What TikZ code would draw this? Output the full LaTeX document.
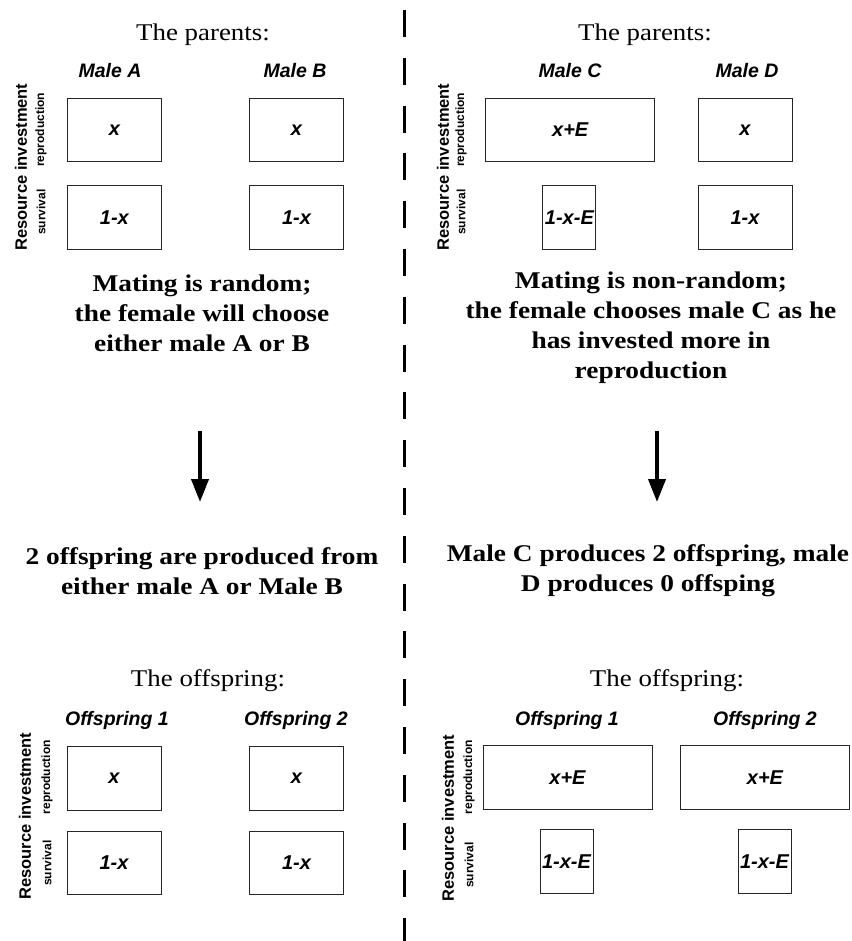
\documentclass[tikz,border=0pt]{standalone}
\usepackage{fontspec}
\setmainfont{Liberation Serif}
\setsansfont{Liberation Sans}
\newfontfamily\titlefont[FakeStretch=1.12]{Liberation Serif}
\newfontfamily\msgfont[FakeStretch=1.14]{Liberation Serif}
\usetikzlibrary{arrows.meta}
\tikzset{
  valbox/.style={draw=black!85, line width=1pt, inner sep=0pt, minimum height=63.5pt,
    font=\sffamily\bfseries\itshape\fontsize{20}{24}\selectfont},
  wn/.style={valbox, minimum width=94pt},
  ww/.style={valbox, minimum width=169pt},
  wk/.style={valbox, minimum width=53pt},
  lab/.style={font=\sffamily\bfseries\itshape\fontsize{19.5}{23}\selectfont},
  ttl/.style={font=\titlefont\fontsize{24}{30}\selectfont},
  msg/.style={font=\msgfont\bfseries\fontsize{24}{30}\selectfont, align=center},
  rbig/.style={font=\sffamily\bfseries\fontsize{16.5}{19}\selectfont, rotate=90},
  rsmall/.style={font=\sffamily\bfseries\fontsize{12}{14}\selectfont, rotate=90},
  arr/.style={line width=4pt, -{Triangle[width=17pt,length=23pt]}},
  divider/.style={line width=3pt, dash pattern=on 27pt off 20.8pt}
}
\begin{document}
\begin{tikzpicture}[x=1pt,y=1pt]
\useasboundingbox (0,0) rectangle (851,-941);
% divider
\coordinate (dtop) at (404.5,-10);
\coordinate (dbot) at (404.5,-941);
\draw[divider] (dtop) -- (dbot);

% ---------- top left ----------
\node[ttl] (tpL) at (203,-35) {The parents:};
\node[lab] (mA) at (110,-71) {Male A};
\node[lab] (mB) at (295,-71) {Male B};
\node[rbig] (riTL) at (21,-167) {Resource investment};
\node[rsmall] (rpTL) at (41,-130) {reproduction};
\node[rsmall] (svTL) at (41,-212) {survival};
\node[wn] (Ar) at (114.4,-130) {x};
\node[wn] (As) at (114.4,-217.5) {1-x};
\node[wn] (Br) at (296.5,-130) {x};
\node[wn] (Bs) at (296.5,-217.5) {1-x};

% ---------- top right ----------
\node[ttl] (tpR) at (645,-35) {The parents:};
\node[lab] (mC) at (570,-71) {Male C};
\node[lab] (mD) at (747,-71) {Male D};
\node[rbig] (riTR) at (443,-167) {Resource investment};
\node[rsmall] (rpTR) at (461,-130) {reproduction};
\node[rsmall] (svTR) at (461,-212) {survival};
\node[ww] (Cr) at (570.2,-130) {x+E};
\node[wk] (Cs) at (569.4,-217.5) {1-x-E};
\node[wn] (Dr) at (745,-130) {x};
\node[wn] (Ds) at (745,-217.5) {1-x};

% ---------- messages ----------
\node[msg] (mL) at (202,-313) {Mating is random;\\the female will choose\\either male A or B};
\node[msg] (mR) at (651,-328) {Mating is non-random;\\the female chooses male C as he\\has invested more in\\reproduction};

\coordinate (aLs) at (200,-431);
\coordinate (aLe) at (200,-502);
\coordinate (aRs) at (657,-431);
\coordinate (aRe) at (657,-502);
\draw[arr] (aLs) -- (aLe);
\draw[arr] (aRs) -- (aRe);

\node[msg] (oL) at (202,-571) {2 offspring are produced from\\either male A or Male B};
\node[msg] (oR) at (648,-571) {Male C produces 2 offspring, male\\D produces 0 offsping};

% ---------- bottom left ----------
\node[ttl] (toL) at (208,-681) {The offspring:};
\node[lab] (o1L) at (117,-720) {Offspring 1};
\node[lab] (o2L) at (296,-720) {Offspring 2};
\node[rbig] (riBL) at (25,-816) {Resource investment};
\node[rsmall] (rpBL) at (47,-777) {reproduction};
\node[rsmall] (svBL) at (47,-863) {survival};
\node[wn] (O1r) at (114,-778.5) {x};
\node[wn] (O1s) at (114,-863) {1-x};
\node[wn] (O2r) at (296.5,-778.5) {x};
\node[wn] (O2s) at (296.5,-863) {1-x};

% ---------- bottom right ----------
\node[ttl] (toR) at (667,-681) {The offspring:};
\node[lab] (o1R) at (567,-720) {Offspring 1};
\node[lab] (o2R) at (765,-720) {Offspring 2};
\node[rbig] (riBR) at (448,-818) {Resource investment};
\node[rsmall] (rpBR) at (469,-777) {reproduction};
\node[rsmall] (svBR) at (469,-865) {survival};
\node[ww] (P1r) at (567.5,-777.5) {x+E};
\node[wk] (P1s) at (566.5,-861.5) {1-x-E};
\node[ww] (P2r) at (765,-777.5) {x+E};
\node[wk] (P2s) at (764.5,-861.5) {1-x-E};
\end{tikzpicture}
\end{document}
